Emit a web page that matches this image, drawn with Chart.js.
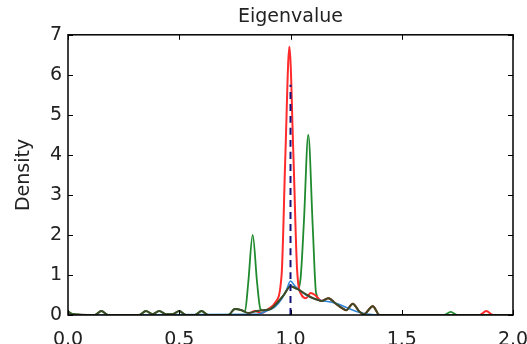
<!DOCTYPE html>
<html>
<head>
<meta charset="utf-8">
<script src="https://cdn.jsdelivr.net/npm/chart.js@4/dist/chart.umd.min.js"></script>
<style>
  html, body { margin: 0; padding: 0; background: #fff; }
  #wrap { width: 527px; height: 344px; }
</style>
</head>
<body>
<div id="wrap"><canvas id="kdeChart" width="527" height="344"></canvas></div>
<script>
// axis ticks
const xTicks = [0, 0.5, 1.0, 1.5, 2.0];
const yTicks = [0, 1, 2, 3, 4, 5, 6, 7];

// green density
const greenX = [0.00, 0.02, 0.12, 0.15, 0.18, 0.32, 0.35, 0.38, 0.41, 0.44, 0.47, 0.50, 0.53, 0.57, 0.60, 0.63, 0.72, 0.75, 0.78, 0.795, 0.81, 0.83, 0.85, 0.865, 0.88, 0.91, 0.94, 0.97, 1.00, 1.03, 1.045, 1.06, 1.08, 1.10, 1.115, 1.14, 1.17, 1.20, 1.23, 1.25, 1.28, 1.31, 1.33, 1.37, 1.40, 1.69, 1.72, 1.75, 2.00];
const greenY = [0.10, 0.03, 0.00, 0.10, 0.00, 0.00, 0.10, 0.02, 0.10, 0.02, 0.02, 0.10, 0.00, 0.00, 0.10, 0.00, 0.00, 0.15, 0.12, 0.08, 0.80, 2.00, 0.80, 0.15, 0.12, 0.15, 0.30, 0.50, 0.72, 0.65, 0.90, 2.30, 4.50, 2.20, 0.55, 0.35, 0.42, 0.30, 0.18, 0.12, 0.28, 0.08, 0.02, 0.22, 0.00, 0.00, 0.08, 0.00, 0.00];

// red density
const redX = [0.00, 0.80, 0.84, 0.87, 0.90, 0.93, 0.96, 0.977, 0.995, 1.013, 1.03, 1.05, 1.07, 1.09, 1.11, 1.14, 1.17, 1.20, 1.23, 1.25, 1.28, 1.31, 1.33, 1.37, 1.40, 1.85, 1.88, 1.91, 2.00];
const redY = [0.00, 0.00, 0.10, 0.05, 0.15, 0.30, 1.00, 4.00, 6.70, 4.00, 1.10, 0.50, 0.42, 0.55, 0.50, 0.35, 0.42, 0.30, 0.18, 0.12, 0.28, 0.08, 0.02, 0.22, 0.00, 0.00, 0.10, 0.00, 0.00];

// blue density
const blueX = [0.00, 0.85, 0.90, 0.93, 0.96, 0.98, 1.00, 1.02, 1.04, 1.07, 1.10, 1.14, 1.20, 1.30, 1.40, 2.00];
const blueY = [0.00, 0.02, 0.12, 0.20, 0.40, 0.60, 0.85, 0.72, 0.62, 0.50, 0.42, 0.36, 0.30, 0.08, 0.00, 0.00];

// dark (pooled) density
const darkX = [0.00, 0.02, 0.12, 0.15, 0.18, 0.32, 0.35, 0.38, 0.41, 0.44, 0.47, 0.50, 0.53, 0.57, 0.60, 0.63, 0.72, 0.75, 0.78, 0.81, 0.85, 0.88, 0.91, 0.94, 0.97, 1.00, 1.03, 1.06, 1.09, 1.12, 1.14, 1.17, 1.20, 1.23, 1.25, 1.28, 1.31, 1.33, 1.37, 1.40, 1.70, 2.00];
const darkY = [0.08, 0.02, 0.00, 0.10, 0.00, 0.00, 0.10, 0.02, 0.10, 0.02, 0.02, 0.10, 0.00, 0.00, 0.10, 0.00, 0.00, 0.15, 0.12, 0.05, 0.10, 0.12, 0.15, 0.30, 0.50, 0.72, 0.65, 0.55, 0.45, 0.38, 0.35, 0.42, 0.30, 0.18, 0.12, 0.28, 0.08, 0.02, 0.22, 0.00, 0.00, 0.00];

// dashed reference line
const refX = [1.0, 1.0];
const refY = [0, 5.75];

const zip = (xs, ys) => xs.map((x, i) => ({ x, y: ys[i] }));

// draw the frame and inward ticks like the original
const frameTicks = {
  id: 'frameTicks',
  afterDatasetsDraw(chart) {
    const { ctx, chartArea: a, scales } = chart;
    ctx.save();
    ctx.strokeStyle = '#000';
    ctx.lineWidth = 1;
    const len = 5;
    ctx.beginPath();
    xTicks.forEach(v => {
      const px = Math.round(scales.x.getPixelForValue(v)) + 0.5;
      ctx.moveTo(px, a.bottom); ctx.lineTo(px, a.bottom - len);
      ctx.moveTo(px, a.top); ctx.lineTo(px, a.top + len);
    });
    yTicks.forEach(v => {
      const py = Math.round(scales.y.getPixelForValue(v)) + 0.5;
      ctx.moveTo(a.left, py); ctx.lineTo(a.left + len, py);
      ctx.moveTo(a.right, py); ctx.lineTo(a.right - len, py);
    });
    ctx.stroke();
    ctx.lineWidth = 1.5;
    ctx.strokeRect(a.left, a.top, a.right - a.left, a.bottom - a.top);
    ctx.restore();
  }
};

const line = (label, data, color, width, order, extra) => Object.assign({
  label, data, borderColor: color, borderWidth: width, order,
  pointRadius: 0, fill: false, tension: 0.4, cubicInterpolationMode: 'monotone'
}, extra || {});

new Chart(document.getElementById('kdeChart').getContext('2d'), {
  type: 'line',
  data: {
    datasets: [
      line('reference', zip(refX, refY), '#14127a', 2, 0, { borderDash: [7, 5], tension: 0 }),
      line('pooled', zip(darkX, darkY), '#3e4a26', 2, 1),
      line('blue', zip(blueX, blueY), '#2f86d6', 1.6, 2),
      line('red', zip(redX, redY), '#ff2a2a', 2, 3),
      line('green', zip(greenX, greenY), '#1f8a2e', 1.8, 4)
    ]
  },
  options: {
    responsive: false,
    animation: false,
    layout: { padding: { left: 0, right: 14, top: 0, bottom: 0 } },
    plugins: {
      legend: { display: false },
      tooltip: { enabled: false },
      title: {
        display: true,
        text: 'Eigenvalue',
        fullSize: false,
        color: '#222',
        font: { family: 'DejaVu Sans', size: 19, weight: 'normal' },
        padding: { top: 6, bottom: 6 }
      }
    },
    scales: {
      x: {
        type: 'linear', min: 0, max: 2,
        afterBuildTicks: s => { s.ticks = xTicks.map(v => ({ value: v })); },
        afterFit: s => { s.height = 29; s.paddingLeft = 0; s.paddingRight = 0; },
        grid: { display: false, drawTicks: false },
        border: { display: false },
        ticks: {
          padding: 14, color: '#222',
          font: { family: 'DejaVu Sans', size: 19 },
          callback: v => v.toFixed(1)
        }
      },
      y: {
        type: 'linear', min: 0, max: 7,
        afterBuildTicks: s => { s.ticks = yTicks.map(v => ({ value: v })); },
        afterFit: s => { s.width = 68; s.paddingTop = 0; s.paddingBottom = 0; },
        grid: { display: false, drawTicks: false },
        border: { display: false },
        ticks: {
          padding: 6, color: '#222',
          font: { family: 'DejaVu Sans', size: 19 }
        },
        title: {
          display: true, text: 'Density', color: '#222',
          font: { family: 'DejaVu Sans', size: 19 },
          padding: { top: 13, bottom: 0 }
        }
      }
    }
  },
  plugins: [frameTicks]
});
</script>
</body>
</html>
